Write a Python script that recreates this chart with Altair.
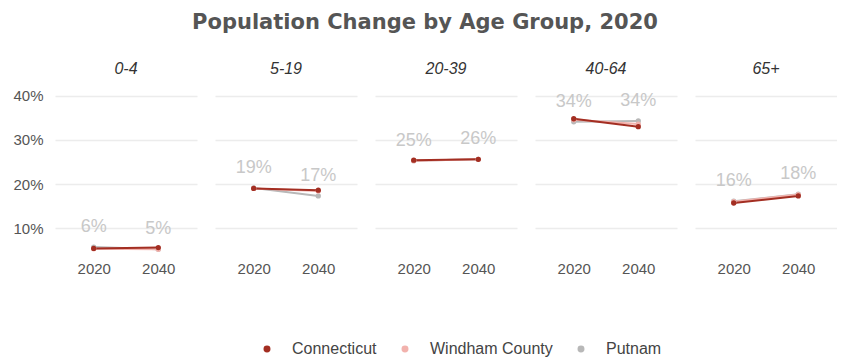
import altair as alt
import pandas as pd

ages = ["0-4", "5-19", "20-39", "40-64", "65+"]
years = ["2020", "2040"]
regions = ["Connecticut", "Windham County", "Putnam"]
colors = ["#a32e22", "#f2b2ad", "#b8b8b8"]

ct_2020 = [5.4, 19.0, 25.4, 34.8, 15.7]
ct_2040 = [5.6, 18.6, 25.6, 33.0, 17.3]
wc_2020 = [5.3, 19.0, 25.3, 34.6, 16.0]
wc_2040 = [5.2, 18.4, 25.6, 33.6, 17.6]
pt_2020 = [5.7, 19.1, 25.3, 34.1, 16.1]
pt_2040 = [5.2, 17.3, 25.6, 34.3, 17.7]

series = {
    "Putnam": (pt_2020, pt_2040),
    "Windham County": (wc_2020, wc_2040),
    "Connecticut": (ct_2020, ct_2040),
}
rows = []
for reg, (a, b) in series.items():
    for i, age in enumerate(ages):
        rows.append({"age": age, "year": years[0], "region": reg, "value": a[i]})
        rows.append({"age": age, "year": years[1], "region": reg, "value": b[i]})
df = pd.DataFrame(rows)

FONT = "Liberation Sans"

x = alt.X("year:N", scale=alt.Scale(type="point", padding=0.6),
          axis=alt.Axis(title=None, grid=False, domain=False, ticks=False,
                        labelAngle=0, labelPadding=2, labelColor="#555",
                        labelFontSize=15, labelFont=FONT))
y = alt.Y("value:Q", scale=alt.Scale(domain=[3, 42], nice=False),
          axis=alt.Axis(title=None, values=[10, 20, 30, 40],
                        labelExpr="datum.value + '%'", domain=False, ticks=False,
                        labelPadding=12, gridColor="#ececec", gridWidth=1.5,
                        labelColor="#555", labelFontSize=15, labelFont=FONT))
color = alt.Color("region:N", scale=alt.Scale(domain=regions, range=colors),
                  legend=alt.Legend(title=None, orient="none", direction="horizontal",
                                    legendX=204, legendY=254,
                                    symbolType="circle", symbolSize=30,
                                    labelFontSize=16, labelColor="#444",
                                    labelFont=FONT,
                                    columnPadding=20, labelOffset=17))

base = alt.Chart(df)
lines = base.mark_line(strokeWidth=2).encode(x=x, y=y, color=color,
                                              order=alt.Order("year:N"))
points = base.mark_circle(size=28, opacity=1).encode(x=x, y=y, color=color)
labels = base.transform_filter(alt.datum.region == "Putnam").transform_calculate(
    label="format(datum.value, '.0f') + '%'"
).mark_text(dy=-20, fontSize=18, color="#c8c8c8", font=FONT).encode(
    x=x, y=y, text="label:N")

layer = alt.layer(lines, points, labels).properties(width=142, height=172)

chart = layer.facet(
    column=alt.Facet("age:N", sort=ages, title=None,
                     header=alt.Header(labelFontStyle="italic", labelFontSize=16,
                                       labelColor="#333", labelFont=FONT,
                                       labelPadding=10)),
    spacing=18,
).properties(
    title=alt.TitleParams("Population Change by Age Group, 2020", fontSize=21,
                          font="DejaVu Sans", fontWeight="bold", color="#555",
                          anchor="middle", offset=28),
    padding={"left": 12, "top": 12, "right": 0, "bottom": 5},
).configure(background="white").configure_view(stroke="transparent", strokeWidth=0)

chart.save("out.html", embed_options={"renderer": "svg", "actions": False})
